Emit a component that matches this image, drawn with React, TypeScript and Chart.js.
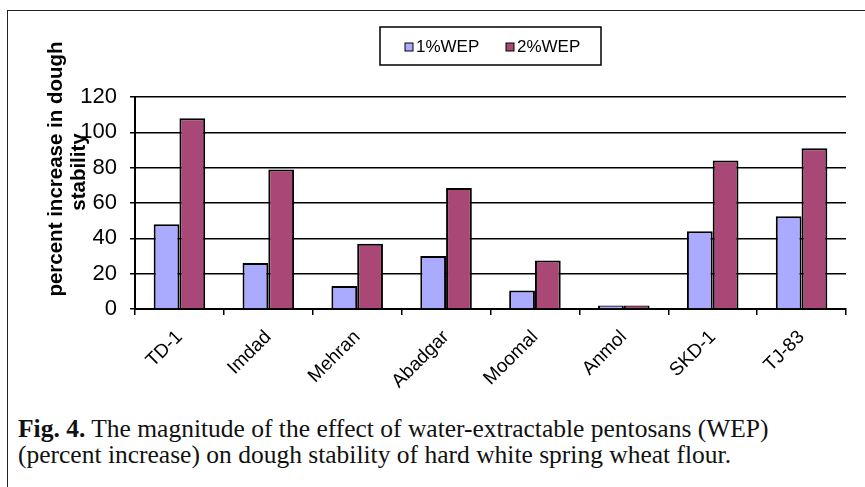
import React, { useEffect, useRef } from "react";
import { Chart, registerables } from "chart.js";

Chart.register(...registerables);

const categories = ["TD-1", "Imdad", "Mehran", "Abadgar", "Moomal", "Anmol", "SKD-1", "TJ-83"];
const wep1 = [48, 26, 13, 30, 10.5, 2, 44, 52.5];
const wep2 = [108, 79, 37, 68.5, 27.5, 2, 84, 91];
const seriesNames = ["1%WEP", "2%WEP"];
const seriesColors = ["#AAAAFF", "#A94876"];
const yTitleLines = ["percent increase in dough", "stability"];
const yTicks = [0, 20, 40, 60, 80, 100, 120];

const overlayPlugin = {
  id: "overlay",
  afterDraw(chart: any) {
    const ctx = chart.ctx;
    ctx.save();
    // y-axis title
    ctx.fillStyle = "#000";
    ctx.font = "bold 20.5px Arial, 'Liberation Sans', sans-serif";
    ctx.textAlign = "center";
    ctx.textBaseline = "middle";
    const centers = [
      { x: 56, y: 169 },
      { x: 79, y: 172 },
    ];
    yTitleLines.forEach((t, i) => {
      ctx.save();
      ctx.translate(centers[i].x, centers[i].y);
      ctx.rotate(-Math.PI / 2);
      ctx.fillText(t, 0, 0);
      ctx.restore();
    });
    // legend
    const lx = 380, ly = 27, lw = 221, lh = 38;
    ctx.lineWidth = 1.5;
    ctx.strokeStyle = "#000";
    ctx.fillStyle = "#fff";
    ctx.fillRect(lx, ly, lw, lh);
    ctx.strokeRect(lx, ly, lw, lh);
    ctx.font = "17px Arial, 'Liberation Sans', sans-serif";
    ctx.textAlign = "left";
    ctx.textBaseline = "middle";
    const itemX = [405, 506];
    chart.data.datasets.forEach((ds: any, i: number) => {
      ctx.fillStyle = ds.backgroundColor;
      ctx.fillRect(itemX[i], 43, 8, 8);
      ctx.lineWidth = 1;
      ctx.strokeStyle = "#000";
      ctx.strokeRect(itemX[i], 43, 8, 8);
      ctx.fillStyle = "#000";
      ctx.fillText(ds.label, itemX[i] + 11, 47);
    });
    ctx.restore();
  },
};

export default function App() {
  const ref = useRef<HTMLCanvasElement | null>(null);
  useEffect(() => {
    if (!ref.current) return;
    const chart = new Chart(ref.current, {
      type: "bar",
      data: {
        labels: categories,
        datasets: [
          {
            label: seriesNames[0],
            data: wep1,
            backgroundColor: seriesColors[0],
            borderColor: "#000",
            borderWidth: 2,
            categoryPercentage: 0.58,
            barPercentage: 1,
          },
          {
            label: seriesNames[1],
            data: wep2,
            backgroundColor: seriesColors[1],
            borderColor: "#000",
            borderWidth: 2,
            categoryPercentage: 0.58,
            barPercentage: 1,
          },
        ],
      },
      options: {
        responsive: false,
        animation: false,
        layout: { padding: { top: 97, right: 19, left: 0, bottom: 0 } },
        plugins: {
          legend: { display: false },
          tooltip: { enabled: false },
        },
        scales: {
          x: {
            afterFit(scale: any) {
              scale.height = 91;
            },
            grid: {
              display: true,
              drawOnChartArea: false,
              drawTicks: true,
              tickLength: 6,
              color: "#000",
              lineWidth: 1.5,
            },
            border: { display: true, color: "#000", width: 2 },
            ticks: {
              color: "#000",
              font: { family: "Arial, 'Liberation Sans', sans-serif", size: 19 },
              minRotation: 45,
              maxRotation: 45,
              padding: 11,
              autoSkip: false,
            },
          },
          y: {
            min: 0,
            max: 120,
            afterFit(scale: any) {
              scale.width = 135;
            },
            afterBuildTicks(scale: any) {
              scale.ticks = yTicks.map((v) => ({ value: v }));
            },
            grid: {
              color: "#000",
              lineWidth: 1.5,
              drawTicks: true,
              tickLength: 5,
            },
            border: { display: true, color: "#000", width: 2 },
            ticks: {
              color: "#000",
              font: { family: "Arial, 'Liberation Sans', sans-serif", size: 22 },
              padding: 13,
            },
          },
        },
      },
      plugins: [overlayPlugin],
    });
    return () => chart.destroy();
  }, []);

  return (
    <div
      style={{
        position: "fixed",
        left: 0,
        top: 0,
        width: 865,
        height: 487,
        overflow: "hidden",
        background: "#fff",
      }}
    >
      <div
        style={{
          position: "absolute",
          left: 7,
          top: 10,
          width: 900,
          height: 520,
          borderLeft: "1.5px solid #222",
          borderTop: "1.5px solid #222",
        }}
      />
      <canvas
        ref={ref}
        width={865}
        height={400}
        style={{ position: "absolute", left: 0, top: 0, width: 865, height: 400 }}
      />
      <div
        style={{
          position: "absolute",
          left: 18,
          top: 416,
          width: 840,
          fontFamily: "'Liberation Serif', 'Times New Roman', serif",
          fontSize: 25.5,
          lineHeight: "26px",
          color: "#111",
          whiteSpace: "nowrap",
        }}
      >
        <div>
          <b>Fig. 4.</b> The magnitude of the effect of water-extractable pentosans (WEP)
        </div>
        <div>(percent increase) on dough stability of hard white spring wheat flour.</div>
      </div>
    </div>
  );
}
